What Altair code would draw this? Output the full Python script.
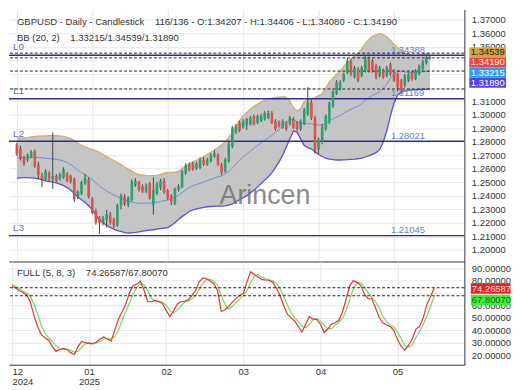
import altair as alt
import pandas as pd

# ---------------- data ----------------
opens = [1.2778, 1.2750, 1.2683, 1.2666, 1.2690, 1.2726, 1.2630, 1.2548, 1.2523, 1.2570,
         1.2520, 1.2546, 1.2523, 1.2535, 1.2563, 1.2546, 1.2523, 1.2391, 1.2415, 1.2487,
         1.2520, 1.2380, 1.2290, 1.2236, 1.2200, 1.2220, 1.2260, 1.2225, 1.2180, 1.2330,
         1.2395, 1.2335, 1.2370, 1.2480, 1.2500, 1.2470, 1.2430, 1.2487, 1.2330, 1.2420,
         1.2460, 1.2510, 1.2439, 1.2400, 1.2343, 1.2445, 1.2465, 1.2565, 1.2630, 1.2640,
         1.2600, 1.2605, 1.2666, 1.2630, 1.2654, 1.2690, 1.2702, 1.2630, 1.2582, 1.2654,
         1.2762, 1.2869, 1.2940, 1.2905, 1.2920, 1.2929, 1.2989, 1.2940, 1.2953, 1.2965,
         1.2975, 1.3012, 1.2953, 1.2940, 1.2905, 1.2940, 1.2929, 1.2965, 1.2940, 1.2893,
         1.2929, 1.3000, 1.3090, 1.2975, 1.2740, 1.2800, 1.2893, 1.2941, 1.3060, 1.3156,
         1.3192, 1.3252, 1.3311, 1.3395, 1.3275, 1.3335, 1.3287, 1.3323, 1.3407, 1.3395,
         1.3359, 1.3287, 1.3323, 1.3287, 1.3371, 1.3323, 1.3299, 1.3252, 1.3216, 1.3252,
         1.3311, 1.3263, 1.3299, 1.3335, 1.3380, 1.34207]
highs = [1.2790, 1.2770, 1.2695, 1.2712, 1.2735, 1.2740, 1.2650, 1.2570, 1.2595, 1.2580,
         1.2866, 1.2560, 1.2570, 1.2610, 1.2575, 1.2555, 1.2535, 1.2440, 1.2510, 1.2560,
         1.2535, 1.2390, 1.2305, 1.2248, 1.2250, 1.2295, 1.2280, 1.2240, 1.2340, 1.2415,
         1.2410, 1.2395, 1.2520, 1.2530, 1.2510, 1.2485, 1.2490, 1.2500, 1.2535, 1.2500,
         1.2525, 1.2530, 1.2450, 1.2410, 1.2460, 1.2485, 1.2590, 1.2640, 1.2645, 1.2650,
         1.2650, 1.2680, 1.2685, 1.2680, 1.2712, 1.2735, 1.2715, 1.2645, 1.2680, 1.2797,
         1.2915, 1.2930, 1.2955, 1.2965, 1.2975, 1.2990, 1.3000, 1.3000, 1.3005, 1.3025,
         1.3030, 1.3025, 1.2965, 1.2955, 1.2965, 1.2950, 1.2990, 1.2980, 1.2950, 1.2965,
         1.3050, 1.3203, 1.3110, 1.2990, 1.2830, 1.2930, 1.3000, 1.3095, 1.3180, 1.3255,
         1.3255, 1.3310, 1.3419, 1.3410, 1.3360, 1.3350, 1.3360, 1.3439, 1.3430, 1.3410,
         1.3375, 1.3360, 1.3340, 1.3360, 1.3385, 1.3335, 1.3310, 1.3265, 1.3300, 1.3310,
         1.3325, 1.3335, 1.3370, 1.3405, 1.3432, 1.34406]
lows = [1.2695, 1.2660, 1.2620, 1.2650, 1.2680, 1.2606, 1.2523, 1.2463, 1.2510, 1.2510,
        1.2450, 1.2500, 1.2510, 1.2525, 1.2500, 1.2490, 1.2355, 1.2375, 1.2405, 1.2480,
        1.2380, 1.2260, 1.2185, 1.2116, 1.2180, 1.2164, 1.2185, 1.2160, 1.2170, 1.2300,
        1.2325, 1.2315, 1.2360, 1.2465, 1.2430, 1.2420, 1.2420, 1.2370, 1.2260, 1.2405,
        1.2440, 1.2415, 1.2370, 1.2330, 1.2330, 1.2430, 1.2455, 1.2555, 1.2580, 1.2585,
        1.2590, 1.2595, 1.2620, 1.2620, 1.2645, 1.2680, 1.2620, 1.2555, 1.2570, 1.2645,
        1.2750, 1.2855, 1.2870, 1.2895, 1.2885, 1.2920, 1.2920, 1.2930, 1.2945, 1.2955,
        1.2965, 1.2930, 1.2880, 1.2905, 1.2895, 1.2880, 1.2920, 1.2895, 1.2880, 1.2880,
        1.2920, 1.2990, 1.2960, 1.2710, 1.2705, 1.2780, 1.2880, 1.2930, 1.3050, 1.3145,
        1.3180, 1.3240, 1.3300, 1.3285, 1.3265, 1.3240, 1.3275, 1.3310, 1.3310, 1.3310,
        1.3260, 1.3275, 1.3265, 1.3275, 1.3285, 1.3240, 1.3170, 1.3150, 1.3200, 1.3240,
        1.3250, 1.3255, 1.3290, 1.3325, 1.3370, 1.34080]
closes = [1.2707, 1.2673, 1.2635, 1.2702, 1.2722, 1.2618, 1.2553, 1.2520, 1.2582, 1.2523,
          1.2545, 1.2511, 1.2558, 1.2594, 1.2511, 1.2504, 1.2372, 1.2427, 1.2499, 1.2530,
          1.2391, 1.2272, 1.2200, 1.2200, 1.2236, 1.2265, 1.2200, 1.2180, 1.2330, 1.2400,
          1.2340, 1.2385, 1.2505, 1.2510, 1.2445, 1.2430, 1.2475, 1.2380, 1.2440, 1.2487,
          1.2510, 1.2427, 1.2380, 1.2355, 1.2451, 1.2470, 1.2580, 1.2625, 1.2590, 1.2595,
          1.2640, 1.2666, 1.2630, 1.2666, 1.2700, 1.2714, 1.2630, 1.2570, 1.2666, 1.2785,
          1.2905, 1.2917, 1.2881, 1.2953, 1.2965, 1.2977, 1.2929, 1.2989, 1.2989, 1.3012,
          1.3012, 1.2940, 1.2893, 1.2917, 1.2953, 1.2893, 1.2977, 1.2905, 1.2893, 1.2953,
          1.3036, 1.3090, 1.2975, 1.2740, 1.2815, 1.2905, 1.2989, 1.3084, 1.3168, 1.3240,
          1.3240, 1.3299, 1.3395, 1.3299, 1.3347, 1.3252, 1.3347, 1.3419, 1.3323, 1.3323,
          1.3275, 1.3347, 1.3275, 1.3347, 1.3299, 1.3252, 1.3204, 1.3180, 1.3287, 1.3299,
          1.3263, 1.3323, 1.3359, 1.3395, 1.3420, 1.34190]

bb_upper = [1.2828, 1.2826, 1.2828, 1.2830, 1.2834, 1.2838, 1.2840, 1.2842, 1.2843, 1.2844,
            1.2845, 1.2844, 1.2842, 1.2838, 1.2832, 1.2822, 1.2805, 1.2788, 1.2773, 1.2762,
            1.2750, 1.2742, 1.2732, 1.2720, 1.2705, 1.2690, 1.2675, 1.2660, 1.2645, 1.2630,
            1.2612, 1.2596, 1.2582, 1.2565, 1.2558, 1.2553, 1.2550, 1.2548, 1.2548, 1.2550,
            1.2558, 1.2566, 1.2570, 1.2572, 1.2574, 1.2580, 1.2600, 1.2620, 1.2635, 1.2650,
            1.2662, 1.2676, 1.2690, 1.2705, 1.2720, 1.2740, 1.2755, 1.2775, 1.2798, 1.2830,
            1.2869, 1.2915, 1.2955, 1.2990, 1.3015, 1.3040, 1.3062, 1.3078, 1.3092, 1.3105,
            1.3115, 1.3122, 1.3126, 1.3128, 1.3130, 1.3128, 1.3100, 1.3050, 1.3025, 1.3045,
            1.3096, 1.3112, 1.3118, 1.3125, 1.3140, 1.3156, 1.3195, 1.3240, 1.3270, 1.3298,
            1.3323, 1.3355, 1.3385, 1.3410, 1.3435, 1.3454, 1.3485, 1.3525, 1.3556, 1.3578,
            1.3590, 1.3598, 1.3592, 1.3574, 1.3548, 1.3520, 1.3495, 1.3475, 1.3455, 1.3445,
            1.3440, 1.3440, 1.3442, 1.3446, 1.3450, 1.34539]
bb_mid = [1.2679, 1.2679, 1.2680, 1.2681, 1.2683, 1.2684, 1.2682, 1.2680, 1.2676, 1.2674,
          1.2672, 1.2669, 1.2663, 1.2656, 1.2646, 1.2631, 1.2610, 1.2589, 1.2571, 1.2556,
          1.2537, 1.2518, 1.2493, 1.2470, 1.2452, 1.2435, 1.2420, 1.2406, 1.2393, 1.2383,
          1.2369, 1.2360, 1.2353, 1.2346, 1.2345, 1.2345, 1.2345, 1.2346, 1.2348, 1.2351,
          1.2357, 1.2363, 1.2367, 1.2376, 1.2387, 1.2402, 1.2422, 1.2442, 1.2459, 1.2472,
          1.2482, 1.2492, 1.2501, 1.2511, 1.2520, 1.2531, 1.2539, 1.2548, 1.2561, 1.2580,
          1.2604, 1.2635, 1.2662, 1.2687, 1.2707, 1.2730, 1.2751, 1.2771, 1.2791, 1.2810,
          1.2827, 1.2846, 1.2868, 1.2889, 1.2915, 1.2944, 1.2960, 1.2965, 1.2947, 1.2932,
          1.2933, 1.2933, 1.2931, 1.2925, 1.2922, 1.2923, 1.2936, 1.2955, 1.2968, 1.2981,
          1.2993, 1.3010, 1.3025, 1.3039, 1.3052, 1.3063, 1.3081, 1.3105, 1.3125, 1.3141,
          1.3154, 1.3169, 1.3194, 1.3227, 1.3269, 1.3302, 1.3320, 1.3320, 1.3315, 1.3312,
          1.3311, 1.3312, 1.3314, 1.3316, 1.3319, 1.33215]
bb_lower = [1.2530, 1.2532, 1.2533, 1.2533, 1.2532, 1.2530, 1.2525, 1.2518, 1.2510, 1.2505,
            1.2500, 1.2494, 1.2485, 1.2474, 1.2460, 1.2440, 1.2415, 1.2390, 1.2370, 1.2350,
            1.2325, 1.2295, 1.2255, 1.2220, 1.2200, 1.2180, 1.2165, 1.2152, 1.2142, 1.2136,
            1.2126, 1.2124, 1.2125, 1.2128, 1.2132, 1.2137, 1.2141, 1.2145, 1.2148, 1.2152,
            1.2156, 1.2160, 1.2164, 1.2180, 1.2200, 1.2224, 1.2245, 1.2265, 1.2283, 1.2295,
            1.2303, 1.2308, 1.2313, 1.2318, 1.2320, 1.2322, 1.2324, 1.2322, 1.2325, 1.2330,
            1.2340, 1.2355, 1.2370, 1.2385, 1.2400, 1.2420, 1.2440, 1.2465, 1.2490, 1.2515,
            1.2540, 1.2570, 1.2610, 1.2650, 1.2700, 1.2760, 1.2820, 1.2880, 1.2870, 1.2820,
            1.2770, 1.2755, 1.2745, 1.2725, 1.2705, 1.2690, 1.2678, 1.2670, 1.2666, 1.2664,
            1.2664, 1.2665, 1.2666, 1.2668, 1.2670, 1.2673, 1.2678, 1.2686, 1.2695, 1.2705,
            1.2718, 1.2740, 1.2797, 1.2880, 1.2990, 1.3084, 1.3145, 1.3165, 1.3175, 1.3180,
            1.3182, 1.3184, 1.3186, 1.3187, 1.3188, 1.31890]

stoch_k = [75.6, 74.0, 71.8, 70.5, 68.5, 63.0, 52.0, 43.0, 36.5, 34.0,
           32.0, 27.0, 23.0, 24.5, 25.5, 24.4, 22.0, 20.5, 27.0, 31.0,
           30.0, 29.5, 29.0, 30.5, 33.0, 34.6, 33.0, 31.5, 40.0, 49.0,
           55.0, 61.0, 70.0, 76.0, 77.0, 79.5, 72.0, 63.0, 63.0, 64.0,
           63.0, 61.5, 56.0, 51.0, 55.5, 61.0, 63.0, 63.5, 64.5, 68.0,
           72.0, 79.0, 82.1, 81.5, 79.5, 77.5, 72.0, 55.0, 56.5, 59.0,
           62.5, 65.5, 68.0, 69.5, 79.0, 87.2, 85.0, 83.0, 81.0, 80.5,
           80.3, 78.8, 74.0, 68.0, 60.0, 53.0, 50.0, 47.5, 43.0, 38.5,
           45.0, 51.0, 49.0, 48.7, 45.0, 38.0, 41.0, 45.0, 46.0, 48.0,
           54.5, 65.0, 76.0, 80.0, 78.5, 76.0, 69.0, 65.5, 65.4, 58.0,
           50.5, 46.0, 44.4, 43.0, 40.0, 32.5, 27.0, 24.0, 28.0, 33.0,
           41.0, 43.0, 50.0, 61.0, 67.0, 74.26587]
stoch_d = [77.0, 75.5, 73.5, 71.5, 70.0, 67.5, 61.0, 53.0, 44.0, 38.0,
           34.0, 31.0, 27.5, 25.0, 24.5, 24.8, 24.0, 22.5, 23.0, 26.0,
           29.0, 30.0, 29.5, 29.8, 31.0, 33.0, 33.5, 33.0, 35.0, 40.0,
           48.0, 55.0, 62.0, 69.0, 74.5, 77.5, 76.5, 71.5, 66.0, 63.5,
           63.5, 62.8, 60.0, 56.0, 54.0, 55.8, 59.8, 62.5, 63.7, 65.3,
           68.0, 73.0, 77.7, 80.9, 81.0, 79.5, 76.3, 68.0, 61.0, 57.0,
           59.3, 62.3, 65.3, 67.7, 72.0, 78.5, 83.7, 85.0, 83.0, 81.5,
           80.6, 79.9, 77.7, 73.6, 67.3, 60.3, 54.3, 50.2, 46.8, 43.0,
           42.2, 44.8, 48.3, 49.6, 47.6, 43.9, 41.3, 41.3, 44.0, 46.3,
           49.5, 55.8, 65.2, 73.7, 78.2, 78.2, 74.5, 70.2, 66.6, 63.0,
           58.0, 51.5, 47.0, 44.5, 42.5, 38.5, 33.2, 27.8, 26.3, 28.3,
           34.0, 39.0, 44.7, 51.3, 59.3, 67.8007]

levels = [1.34388, 1.31169, 1.28021, 1.21045]
level_names = ["L0", "L1", "L2", "L3"]
price_ticks = [1.20, 1.21, 1.22, 1.23, 1.24, 1.25, 1.26, 1.27, 1.28,
               1.29, 1.30, 1.31, 1.32, 1.33, 1.34, 1.35, 1.36, 1.37]
price_ticks_hidden = [1.32, 1.33, 1.34]      # covered by the value boxes in the reference
stoch_ticks = [20, 30, 40, 50, 60, 70, 80, 90]
stoch_ticks_hidden = [70]
tick_idx = [0, 21, 42, 63, 84, 105]
tick_labels = [["12", "2024"], ["01", "2025"], ["02"], ["03"], ["04"], ["05"]]

# ---------------- layout / style ----------------
W, H1, H2 = 459, 254, 104
FONT = "Liberation Sans"
GRID = "#e8e8e8"
AX = "#333333"
UP, DN = "#2f9e6e", "#d9534f"
NB = "\u00a0"

xs = alt.Scale(domain=[-0.8, 123.2], nice=False, zero=False)
ys = alt.Scale(domain=[1.19132, 1.37770], nice=False, zero=False)
ss = alt.Scale(domain=[12.3, 95.4], nice=False, zero=False)


def hide_expr(hidden):
    cond = " || ".join("abs(datum.value - %s) < 1e-6" % h for h in hidden)
    return "(%s) ? '' : format(datum.value, '.5f')" % cond


x_top_axis = alt.Axis(values=tick_idx, grid=True, gridColor=GRID, labels=False,
                      ticks=False, domain=True, domainColor=AX, title=None)
y_price_axis = alt.Axis(orient="right", values=price_ticks, labelExpr=hide_expr(price_ticks_hidden),
                        grid=True, gridColor=GRID, ticks=False, domainColor=AX, labelPadding=7,
                        labelFontSize=9.5, labelColor=AX, labelFont=FONT, title=None)

expr_parts = []
for v, lab in zip(tick_idx, tick_labels):
    arr = "[" + ",".join("'" + s + "'" for s in lab) + "]"
    expr_parts.append("datum.value == %d ? %s" % (v, arr))
label_expr = " : ".join(expr_parts) + " : ''"

x_bot_axis = alt.Axis(values=tick_idx, grid=True, gridColor=GRID, ticks=False,
                      domainColor=AX, labelExpr=label_expr, labelFlush=5,
                      labelFontSize=9.5, labelColor=AX, labelFont=FONT,
                      labelPadding=2, labelLineHeight=10, title=None)
y_stoch_axis = alt.Axis(orient="right", values=stoch_ticks, labelExpr=hide_expr(stoch_ticks_hidden),
                        grid=True, gridColor=GRID, ticks=False, domainColor=AX, labelPadding=7,
                        labelFontSize=9.5, labelColor=AX, labelFont=FONT, title=None)


def Yp(field):
    return alt.Y(field + ":Q", scale=ys, axis=y_price_axis)


def Ys(field):
    return alt.Y(field + ":Q", scale=ss, axis=y_stoch_axis)


n = len(closes)
price_df = pd.DataFrame({"i": list(range(n)), "open": opens, "high": highs,
                         "low": lows, "close": closes, "bb_upper": bb_upper,
                         "bb_mid": bb_mid, "bb_lower": bb_lower})
base = alt.Chart(price_df)
X = alt.X("i:Q", scale=xs, axis=x_top_axis)

area = base.mark_area(color="#c5c5c5").encode(x=X, y=Yp("bb_upper"), y2="bb_lower:Q")
up_line = base.mark_line(color="#cfae6e", strokeWidth=1.3).encode(x=X, y=Yp("bb_upper"))
lo_line = base.mark_line(color="#5b4fd2", strokeWidth=1.3).encode(x=X, y=Yp("bb_lower"))
mid_line = base.mark_line(color="#6d8fcf", strokeWidth=1).encode(x=X, y=Yp("bb_mid"))

lv_df = pd.DataFrame({"v": levels, "name": level_names,
                      "lab": ["%.5f" % v for v in levels]})
lv_rules = alt.Chart(lv_df).mark_rule(color="#2e2e92", strokeWidth=1.4).encode(y=Yp("v"))
lv_names = alt.Chart(lv_df).mark_text(align="left", baseline="middle", dy=-7.8,
                                      fontSize=10, color="#5a72c4").encode(
    x=alt.value(4), y=Yp("v"), text="name:N")
lv_vals = alt.Chart(lv_df).mark_text(align="left", baseline="middle", dy=-5.6,
                                     fontSize=9.5, color="#5f7dcc").encode(
    x=alt.value(385), y=Yp("v"), text="lab:N")

bb_last = [bb_upper[-1], closes[-1], bb_mid[-1], bb_lower[-1]]
bb_last_df = pd.DataFrame({"v": bb_last})
dash_rules = alt.Chart(bb_last_df).mark_rule(color="#222222", strokeDash=[3, 2],
                                             strokeWidth=1).encode(y=Yp("v"))

wicks = base.mark_rule(color="#444444", strokeWidth=1).encode(x=X, y=Yp("low"), y2="high:Q")
bodies = base.mark_bar(size=2.6).encode(
    x=X, y=Yp("open"), y2="close:Q",
    color=alt.condition("datum.close >= datum.open", alt.value(UP), alt.value(DN)))

hdr1 = ("GBPUSD - Daily - Candlestick" + NB * 4 + "116/136 - O:%.5f - H:%.5f - L:%.5f - C:%.5f"
        % (opens[-1], highs[-1], lows[-1], closes[-1]))
hdr2 = "BB (20, 2)" + NB * 4 + "%.5f/%.5f/%.5f" % (bb_mid[-1], bb_upper[-1], bb_lower[-1])
head1 = alt.Chart(pd.DataFrame({"t": [hdr1]})).mark_text(
    align="left", baseline="middle", fontSize=9.6, color="#333333").encode(
    x=alt.value(8), y=alt.value(12.4), text="t:N")
head2 = alt.Chart(pd.DataFrame({"t": [hdr2]})).mark_text(
    align="left", baseline="middle", fontSize=9.6, color="#333333").encode(
    x=alt.value(8), y=alt.value(28.6), text="t:N")
wmark = alt.Chart(pd.DataFrame({"t": ["Arincen"]})).mark_text(
    align="center", baseline="middle", fontSize=27, color="#6e6e6e", opacity=0.8).encode(
    x=alt.value(258), y=alt.value(188.5), text="t:N")

box_style = [("#d6a440", "#262626", -0.8), ("#e8464b", "#ffe8e8", 4.6),
             ("#2e9cf2", "#ffffff", 1.5), ("#5b40e2", "#ffffff", -6.3)]
top_boxes = []
for v, (fill, tcol, off) in zip(bb_last, box_style):
    d = alt.Chart(pd.DataFrame({"v": [v], "lab": ["%.5f" % v]}))
    top_boxes.append(d.mark_point(shape="M0,-5.1H37V5.1H0Z", size=4, filled=True,
                                  color=fill, opacity=1, strokeWidth=0, yOffset=off).encode(
        x=alt.value(W + 5), y=Yp("v")))
    top_boxes.append(d.mark_text(align="left", baseline="middle", fontSize=9.5,
                                 color=tcol, dy=off).encode(
        x=alt.value(W + 6.5), y=Yp("v"), text="lab:N"))

top = alt.layer(area, up_line, lo_line, mid_line, lv_rules, dash_rules, wicks, bodies,
                lv_names, lv_vals, head1, head2, wmark, *top_boxes).properties(
    width=W, height=H1)

# ---------------- stochastic panel ----------------
st_df = pd.DataFrame({"i": list(range(n)), "k": stoch_k, "d": stoch_d})
sb = alt.Chart(st_df)
X2 = alt.X("i:Q", scale=xs, axis=x_bot_axis)
d_line = sb.mark_line(color="#72d862", strokeWidth=1.2).encode(x=X2, y=Ys("d"))
k_line = sb.mark_line(color="#e23434", strokeWidth=1.2).encode(x=X2, y=Ys("k"))

st_last = [stoch_k[-1], stoch_d[-1]]
st_rules = alt.Chart(pd.DataFrame({"v": st_last})).mark_rule(
    color="#222222", strokeDash=[3, 2], strokeWidth=1).encode(y=Ys("v"))
hdr3 = "FULL (5, 8, 3)" + NB * 4 + "%.5f/%.5f" % (stoch_k[-1], stoch_d[-1])
head3 = alt.Chart(pd.DataFrame({"t": [hdr3]})).mark_text(
    align="left", baseline="middle", fontSize=9.6, color="#333333").encode(
    x=alt.value(8), y=alt.value(11.8), text="t:N")

st_style = [("#f21d1d", "#ffe0e0", 0.8), ("#3ded3d", "#146414", 4.2)]
st_boxes = []
for v, (fill, tcol, off) in zip(st_last, st_style):
    d = alt.Chart(pd.DataFrame({"v": [v], "lab": ["%.5f" % v]}))
    st_boxes.append(d.mark_point(shape="M0,-5.2H40V5.2H0Z", size=4, filled=True,
                                 color=fill, opacity=1, strokeWidth=0, yOffset=off).encode(
        x=alt.value(W + 6.5), y=Ys("v")))
    st_boxes.append(d.mark_text(align="left", baseline="middle", fontSize=9.5,
                                color=tcol, dy=off).encode(
        x=alt.value(W + 7.5), y=Ys("v"), text="lab:N"))

bottom = alt.layer(d_line, k_line, st_rules, head3, *st_boxes).properties(width=W, height=H2)

chart = alt.vconcat(top, bottom, spacing=0).properties(padding=0).configure(
    font=FONT).configure_view(stroke=None)

chart.save("out.html", embed_options={"renderer": "svg", "actions": False})
